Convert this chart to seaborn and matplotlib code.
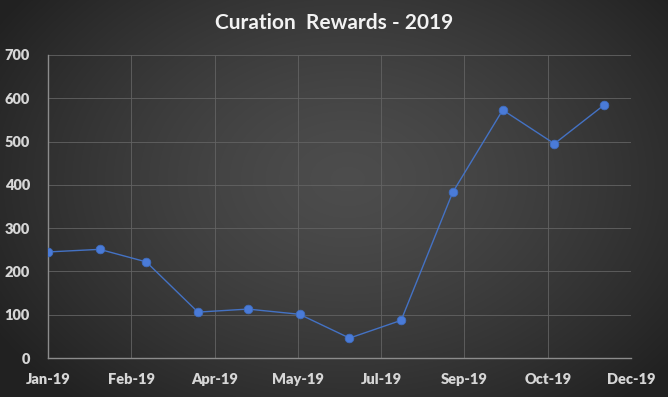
import numpy as np
import pandas as pd
import matplotlib
matplotlib.use("Agg")
import matplotlib.pyplot as plt
import matplotlib.dates as mdates
import seaborn as sns

# Data
months = pd.date_range("2019-01-01", periods=12, freq="MS")
rewards = [245, 251, 222, 106, 113, 101, 46, 87, 383, 573, 495, 585]
tick_dates = pd.date_range("2019-01-01", periods=8, freq="50D")
y_ticks = [0, 100, 200, 300, 400, 500, 600, 700]
title = "Curation  Rewards - 2019"

df = pd.DataFrame({"month": months, "rewards": rewards})

sns.set_theme(style="dark")
plt.rcParams["font.family"] = ["Lato", "DejaVu Sans"]

W, H = 668, 397
fig = plt.figure(figsize=(W / 100, H / 100), dpi=100)

# radial gradient background
yy, xx = np.mgrid[0:H, 0:W]
cx, cy = W * 0.52, H * 0.45
r = np.sqrt(((xx - cx) / (W * 0.62)) ** 2 + ((yy - cy) / (H * 0.75)) ** 2)
r = np.clip(r, 0, 1)
inner, outer = 0.30, 0.13
v = inner + (outer - inner) * r ** 1.4
bg = np.dstack([v, v, v])
bgax = fig.add_axes([0, 0, 1, 1], zorder=0)
bgax.imshow(bg, aspect="auto", extent=[0, 1, 0, 1])
bgax.axis("off")

ax = fig.add_axes([48 / W, 1 - 358 / H, (631 - 48) / W, (358 - 55) / H], zorder=1)
ax.set_facecolor("none")

sns.lineplot(data=df, x="month", y="rewards", ax=ax, color="#4472C4",
             linewidth=1.0, marker="o", markersize=6.2,
             markerfacecolor="#4A7BD8", markeredgecolor="#3F6DC0",
             markeredgewidth=0.6, zorder=3)

ax.set_xlim(tick_dates[0], tick_dates[-1])
ax.set_ylim(0, 700)
ax.set_xticks(tick_dates)
ax.xaxis.set_major_formatter(mdates.DateFormatter("%b-%y"))
ax.set_yticks(y_ticks)
ax.set_xlabel("")
ax.set_ylabel("")

ax.grid(True, color="#636363", linewidth=0.6)
ax.set_axisbelow(True)
for s in ["top", "right"]:
    ax.spines[s].set_visible(False)
for s in ["left", "bottom"]:
    ax.spines[s].set_visible(True)
    ax.spines[s].set_color("#8c8c8c")
    ax.spines[s].set_linewidth(1.0)

ax.tick_params(axis="both", length=0, colors="#d6d6d6", labelsize=10.5)
ax.tick_params(axis="x", pad=11)
ax.tick_params(axis="y", pad=13)
for lbl in ax.get_xticklabels() + ax.get_yticklabels():
    lbl.set_fontweight("heavy")
    lbl.set_color("#d6d6d6")

fig.text(0.5, 1 - 23 / H, title, ha="center", va="center", color="#f2f2f2",
         fontsize=15, fontweight="bold")

fig.savefig("out.png", dpi=100)
